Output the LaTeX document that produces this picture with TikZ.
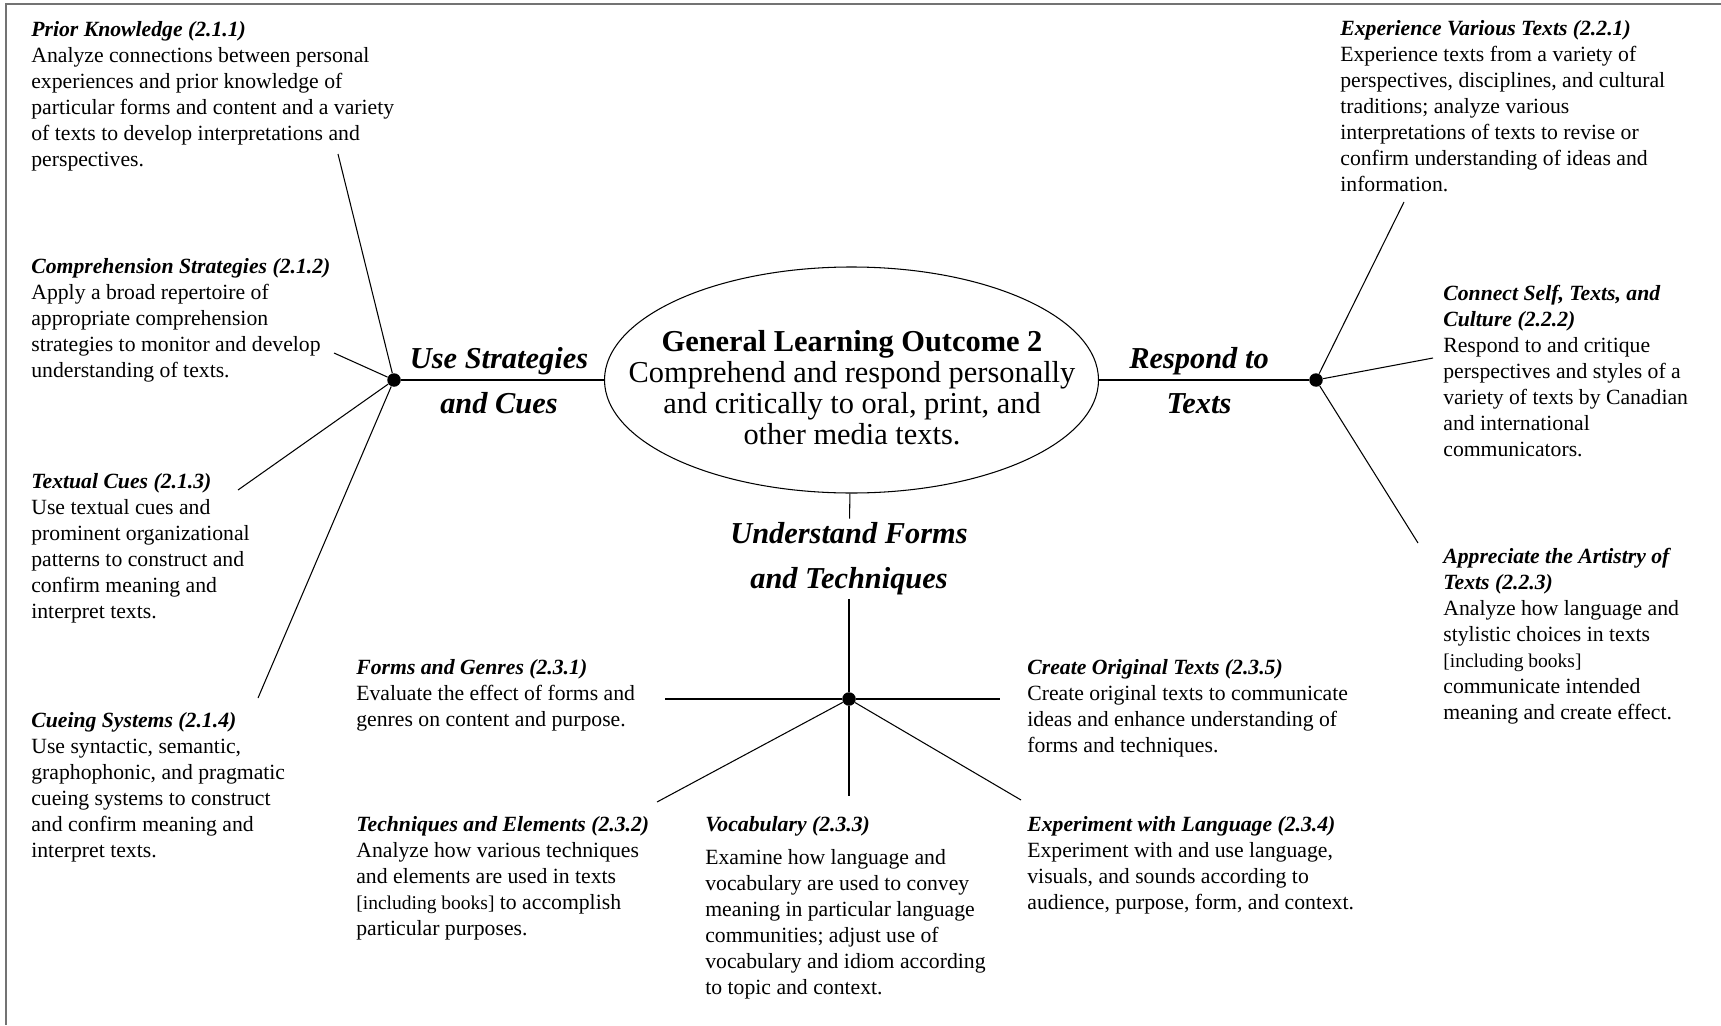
\documentclass[tikz,border=0pt]{standalone}
\usepackage{fontspec}
\setmainfont{Liberation Serif}
\usetikzlibrary{shapes.geometric}

\newcommand\bodysize{\fontsize{12.35pt}{14.8pt}\selectfont}
\newcommand\ttl[1]{{\bfseries\itshape #1}}
\newcommand\incl{{\fontsize{11.1pt}{14.8pt}\selectfont[including books]}}

\begin{document}
\begin{tikzpicture}[
  font=\bodysize,
  txt/.style={anchor=north west, align=left, inner sep=0pt},
  goal/.style={
    ellipse,
    draw,
    line width=0.6pt,
    minimum width=9.88cm,
    minimum height=4.52cm,
    inner sep=0pt,
  },
  hub/.style={circle, fill=black, inner sep=0pt, minimum size=0.27cm},
  branch/.style={
    font=\fontsize{17.3pt}{25.6pt}\selectfont\bfseries\itshape,
    align=center,
    inner sep=0pt,
  },
  spoke/.style={line width=0.6pt},
  frame/.style={line width=1.1pt, black!55},
]
  \useasboundingbox (0,0) rectangle (34.42,-20.50);
  \draw[frame] (34.42,-0.08) -- (0.12,-0.08) -- (0.12,-20.50);

  % Centre: the outcome in an ellipse, three hubs round it
  \node[goal] (goal) at (17.03,-7.60) {};
  \node[align=center, inner sep=0pt, anchor=north,
        font=\fontsize{17.3pt}{17.6pt}\selectfont] (goaltxt) at (17.04,-6.60)
    {\textbf{General Learning Outcome 2}\\Comprehend and respond personally\\
     and critically to oral, print, and\\other media texts.};
  \node[hub] (lhub) at (7.88,-7.60) {};
  \node[hub] (rhub) at (26.32,-7.60) {};
  \node[hub] (bhub) at (16.98,-13.98) {};

  \node[branch, anchor=north] (use) at (9.98,-6.95) {Use Strategies\\and Cues};
  \node[branch, anchor=north] (resp) at (23.98,-6.95) {Respond to\\Texts};
  \node[branch, anchor=north, inner ysep=0.07cm] (ut) at (16.98,-10.37)
    {Understand Forms\\and Techniques};

  % Left column (2.1.x)
  \node[txt] (prior) at (0.62,-0.42) {\ttl{Prior Knowledge (2.1.1)}\\
    Analyze connections between personal\\experiences and prior knowledge of\\
    particular forms and content and a variety\\of texts to develop interpretations and\\
    perspectives.};
  \node[txt] (compr) at (0.62,-5.16) {\ttl{Comprehension Strategies (2.1.2)}\\
    Apply a broad repertoire of\\appropriate comprehension\\
    strategies to monitor and develop\\understanding of texts.};
  \node[txt] (textual) at (0.62,-9.46) {\ttl{Textual Cues (2.1.3)}\\
    Use textual cues and\\prominent organizational\\patterns to construct and\\
    confirm meaning and\\interpret texts.};
  \node[txt] (cueing) at (0.62,-14.24) {\ttl{Cueing Systems (2.1.4)}\\
    Use syntactic, semantic,\\graphophonic, and pragmatic\\cueing systems to construct\\
    and confirm meaning and\\interpret texts.};

  % Bottom group (2.3.x)
  \node[txt] (forms) at (7.12,-13.18) {\ttl{Forms and Genres (2.3.1)}\\
    Evaluate the effect of forms and\\genres on content and purpose.};
  \node[txt] (techn) at (7.12,-16.32) {\ttl{Techniques and Elements (2.3.2)}\\
    Analyze how various techniques\\and elements are used in texts\\
    \incl{} to accomplish\\particular purposes.};
  \node[txt] (vocab) at (14.10,-16.32) {\ttl{Vocabulary (2.3.3)}\\[4pt]
    Examine how language and\\vocabulary are used to convey\\
    meaning in particular language\\communities; adjust use of\\
    vocabulary and idiom according\\to topic and context.};
  \node[txt] (experim) at (20.54,-16.32) {\ttl{Experiment with Language (2.3.4)}\\
    Experiment with and use language,\\visuals, and sounds according to\\
    audience, purpose, form, and context.};
  \node[txt] (create) at (20.54,-13.18) {\ttl{Create Original Texts (2.3.5)}\\
    Create original texts to communicate\\ideas and enhance understanding of\\
    forms and techniques.};

  % Right column (2.2.x)
  \node[txt] (various) at (26.80,-0.40) {\ttl{Experience Various Texts (2.2.1)}\\
    Experience texts from a variety of\\perspectives, disciplines, and cultural\\
    traditions; analyze various\\interpretations of texts to revise or\\
    confirm understanding of ideas and\\information.};
  \node[txt] (connect) at (28.86,-5.70) {\ttl{Connect Self, Texts, and}\\\ttl{Culture (2.2.2)}\\
    Respond to and critique\\perspectives and styles of a\\variety of texts by Canadian\\
    and international\\communicators.};
  \node[txt] (artistry) at (28.86,-10.96) {\ttl{Appreciate the Artistry of}\\\ttl{Texts (2.2.3)}\\
    Analyze how language and\\stylistic choices in texts\\\incl\\
    communicate intended\\meaning and create effect.};

  % free ends of the spokes
  \coordinate (pk) at (6.76,-3.08);
  \coordinate (cs) at (6.68,-7.06);
  \coordinate (tc) at (4.76,-9.80);
  \coordinate (cy) at (5.16,-13.96);
  \coordinate (ev) at (28.08,-4.04);
  \coordinate (cn) at (28.66,-7.16);
  \coordinate (ap) at (28.36,-10.86);
  \coordinate (fg) at (13.30,-13.98);
  \coordinate (co) at (20.00,-13.98);
  \coordinate (te) at (13.14,-16.04);
  \coordinate (vo) at (16.98,-15.92);
  \coordinate (ex) at (20.42,-16.00);

  \draw[spoke] (lhub) -- (goal);
  \draw[spoke] (goal) -- (rhub);
  \draw[spoke] (goal) -- (ut);
  \draw[spoke] (ut) -- (bhub);
  \foreach \t in {pk,cs,tc,cy} {\draw[spoke] (lhub) -- (\t);}
  \foreach \t in {ev,cn,ap} {\draw[spoke] (rhub) -- (\t);}
  \foreach \t in {fg,co,te,vo,ex} {\draw[spoke] (bhub) -- (\t);}
\end{tikzpicture}
\end{document}
